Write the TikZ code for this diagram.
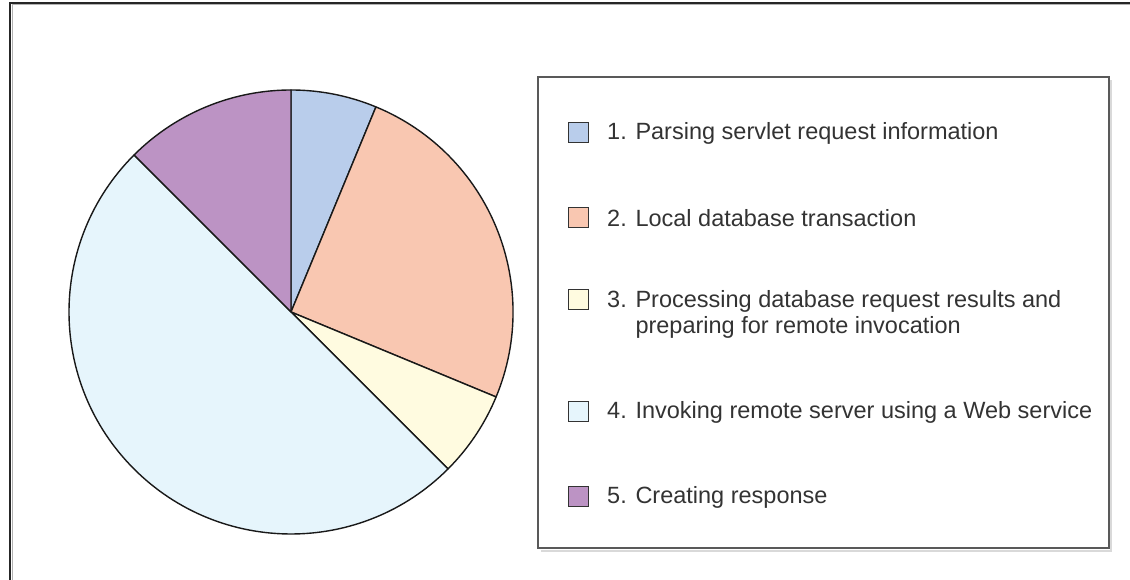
\documentclass[tikz,border=0pt]{standalone}
\usepackage{fontspec}
\setmainfont{Liberation Sans}
\definecolor{cA}{HTML}{B9CDEB}
\definecolor{cB}{HTML}{F9C7B1}
\definecolor{cC}{HTML}{FFFBE0}
\definecolor{cD}{HTML}{E6F5FC}
\definecolor{cE}{HTML}{BC93C4}
\definecolor{txt}{HTML}{333333}
\tikzset{
  wedge/.style={draw=black!90, line width=1.4pt, line join=round},
  swatch/.style={draw=black!80, line width=1pt, minimum size=20pt, inner sep=0pt},
  label/.style={anchor=west, text=txt, font=\fontsize{23.5}{26}\selectfont, inner sep=0pt, align=left},
  frame/.style={line width=1.8pt, black!85}
}
\begin{document}
\begin{tikzpicture}[x=1pt,y=1pt]
\useasboundingbox (0,0) rectangle (1130,580);
% outer frame
\draw[black!30, line width=1pt] (12,0) -- (12,575) -- (1130,575);
\draw[frame] (10,0) coordinate (fb) -- (10,577) coordinate (fc) -- (1130,577) coordinate (fr);
% pie
\coordinate (C) at (291,268);
\def\R{222}
\filldraw[wedge, fill=cA] (C) -- ++(90:\R) arc[start angle=90, end angle=67.5, radius=\R] -- cycle;
\filldraw[wedge, fill=cB] (C) -- ++(67.5:\R) arc[start angle=67.5, end angle=-22.5, radius=\R] -- cycle;
\filldraw[wedge, fill=cC] (C) -- ++(-22.5:\R) arc[start angle=-22.5, end angle=-45, radius=\R] -- cycle;
\filldraw[wedge, fill=cD] (C) -- ++(-45:\R) arc[start angle=-45, end angle=-225, radius=\R] -- cycle;
\filldraw[wedge, fill=cE] (C) -- ++(135:\R) arc[start angle=135, end angle=90, radius=\R] -- cycle;
% legend box
\draw[black!15, line width=2pt] (541,29) -- (1111,29) -- (1111,500);
\draw[black!65, line width=1.5pt] (538,32) rectangle (1109,503);
\node[swatch, fill=cA] (s1) at (578,447) {};
\node[swatch, fill=cB] (s2) at (578,362) {};
\node[swatch, fill=cC] (s3) at (578,280) {};
\node[swatch, fill=cD] (s4) at (578,168) {};
\node[swatch, fill=cE] (s5) at (578,83) {};
\node[label] (l1) at (607,447) {1. Parsing servlet request information};
\node[label] (l2) at (607,362) {2. Local database transaction};
\node[label, anchor=north west] (l3) at (607,290) {3. Processing database request results and\\\phantom{3. }preparing for remote invocation};
\node[label] (l4) at (607,168) {4. Invoking remote server using a Web service};
\node[label] (l5) at (607,83) {5. Creating response};
\end{tikzpicture}
\end{document}
